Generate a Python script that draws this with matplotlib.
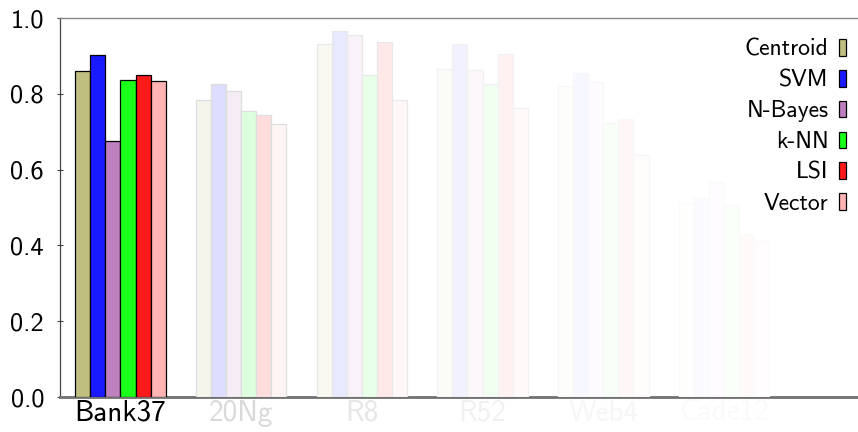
import numpy as np
import matplotlib.pyplot as plt
from matplotlib.colors import to_rgb

# datasets and methods
datasets = ['Bank37', '20Ng', 'R8', 'R52', 'Web4', 'Cade12']
methods = ['Centroid', 'SVM', 'N-Bayes', 'k-NN', 'LSI', 'Vector']

centroid = [0.860, 0.785, 0.931, 0.867, 0.822, 0.511]
svm = [0.903, 0.825, 0.965, 0.933, 0.856, 0.525]
nbayes = [0.676, 0.807, 0.956, 0.864, 0.831, 0.568]
knn = [0.838, 0.755, 0.849, 0.827, 0.722, 0.508]
lsi = [0.849, 0.745, 0.937, 0.905, 0.733, 0.430]
vector = [0.833, 0.720, 0.785, 0.764, 0.640, 0.412]

series = [centroid, svm, nbayes, knn, lsi, vector]
colors = ['#bfbf80', '#1a1aff', '#bf80bf', '#1aff1a', '#ff1a1a', '#ffb3b3']
# opacity of each dataset group (only the first one is highlighted)
group_alpha = [1.0, 0.15, 0.10, 0.06, 0.035, 0.02]


def fade(c, a):
    r = np.array(to_rgb(c))
    return tuple(1 - a * (1 - r))


plt.rcParams['font.family'] = ['cmss10', 'DejaVu Sans']
plt.rcParams['axes.unicode_minus'] = False

fig = plt.figure(figsize=(8.58, 4.32), dpi=100)
ax = fig.add_axes([0.070, 0.081, 0.93, 0.877])

width = 0.125
x = np.arange(len(datasets))
for j, (vals, col) in enumerate(zip(series, colors)):
    offs = (j - 2.5) * width
    for i in range(len(datasets)):
        a = group_alpha[i]
        ax.bar(x[i] + offs, vals[i], width, color=fade(col, a),
               edgecolor=fade('black', a * 0.9 if a < 1 else 1.0),
               linewidth=0.9, zorder=3,
               label=methods[j] if i == 0 else None)

ax.set_xlim(-0.5, 6.11)
ax.set_ylim(0, 1.0)
ax.set_yticks([0, 0.2, 0.4, 0.6, 0.8, 1.0])
ax.set_yticklabels(['0.0', '0.2', '0.4', '0.6', '0.8', '1.0'], fontsize=19)
ax.tick_params(axis='y', direction='inout', length=5, width=0.8,
               color='#444444', pad=9)

ax.set_xticks(x)
ax.set_xticklabels(datasets, fontsize=21)
ax.tick_params(axis='x', length=0, pad=2)
for lab, a in zip(ax.get_xticklabels(), group_alpha):
    lab.set_color(fade('black', a))

ax.spines['right'].set_visible(False)
ax.spines['top'].set_color('#888888')
ax.spines['top'].set_linewidth(1.0)
ax.spines['left'].set_color('#444444')
ax.spines['left'].set_linewidth(0.9)
ax.spines['bottom'].set_color('#707070')
ax.spines['bottom'].set_linewidth(2.0)

ax.legend(loc='upper right', bbox_to_anchor=(0.997, 0.97), frameon=False,
          markerfirst=False, fontsize=17, handlelength=0.3,
          handleheight=0.7, handletextpad=0.45, labelspacing=0.37,
          borderaxespad=0)

fig.savefig('out.png', dpi=100)
plt.close(fig)
